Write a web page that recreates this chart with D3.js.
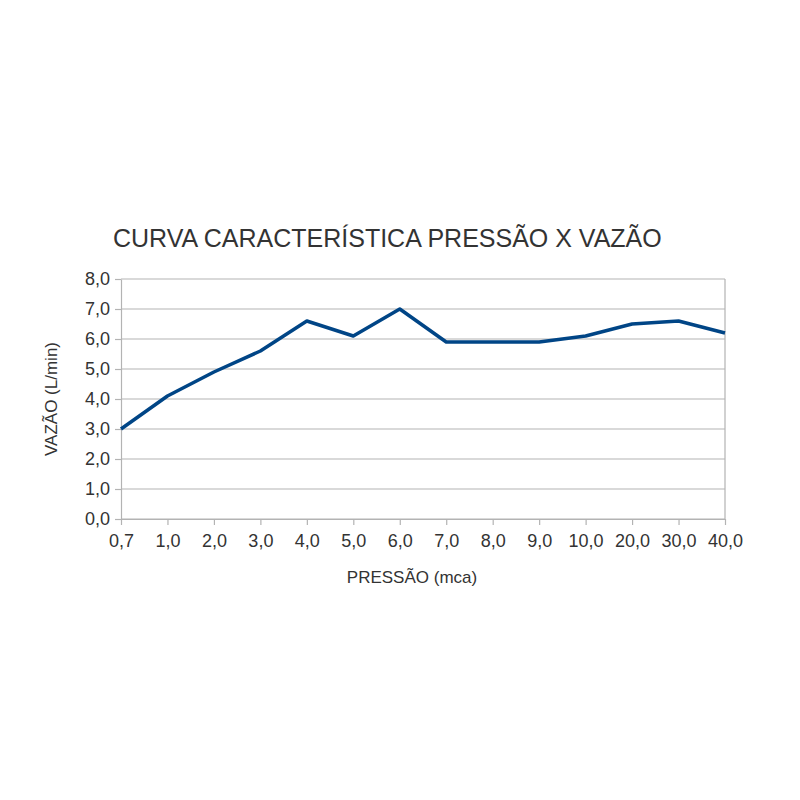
<!DOCTYPE html>
<meta charset="utf-8">
<style>
    body { margin: 0; background: #fff; }
    text { font-family: "Liberation Sans", Arial, sans-serif; fill: #333; }
    .grid line { stroke: #b3b3b3; stroke-width: 1.2; }
    .axis path, .axis line { stroke: #b3b3b3; stroke-width: 1.2; }
</style>
<body>
<script src="https://d3js.org/d3.v7.min.js"></script>
<script>

    // pressure categories (mca) and flow values (L/min)
    var pressures = ["0,7", "1,0", "2,0", "3,0", "4,0", "5,0", "6,0", "7,0", "8,0", "9,0", "10,0", "20,0", "30,0", "40,0"];
    var flows = [3.0, 4.1, 4.9, 5.6, 6.6, 6.1, 7.0, 5.9, 5.9, 5.9, 6.1, 6.5, 6.6, 6.2];
    var yTicks = [0, 1, 2, 3, 4, 5, 6, 7, 8];

    var width = 800,
        height = 800,
        plotLeft = 121, plotRight = 725,
        plotTop = 279, plotBottom = 519;

    var fmt = function(d) { return d3.format(".1f")(d).replace(".", ","); };

    var svg = d3.select("body").append("svg")
        .attr("width", width)
        .attr("height", height);

    var x = d3.scalePoint()
        .domain(pressures)
        .range([plotLeft, plotRight]);

    var y = d3.scaleLinear()
        .domain([0, 8])
        .range([plotBottom, plotTop]);

    // horizontal grid
    svg.append("g")
        .attr("class", "grid")
        .selectAll("line")
        .data(yTicks)
        .enter().append("line")
        .attr("x1", plotLeft)
        .attr("x2", plotRight)
        .attr("y1", function(d) { return y(d); })
        .attr("y2", function(d) { return y(d); });

    // right border
    svg.append("line")
        .attr("x1", plotRight).attr("x2", plotRight)
        .attr("y1", plotTop).attr("y2", plotBottom)
        .style("stroke", "#b3b3b3")
        .style("stroke-width", 1.2);

    var yAxis = svg.append("g")
        .attr("class", "axis")
        .attr("transform", "translate(" + plotLeft + ",0)")
        .call(d3.axisLeft(y).tickValues(yTicks).tickFormat(fmt).tickSizeInner(6).tickSizeOuter(0).tickPadding(5));
    yAxis.selectAll("text").style("font-size", "18px");

    var xAxis = svg.append("g")
        .attr("class", "axis")
        .attr("transform", "translate(0," + plotBottom + ")")
        .call(d3.axisBottom(x).tickSizeInner(6).tickSizeOuter(0).tickPadding(9));
    xAxis.selectAll("text").style("font-size", "18px");

    var line = d3.line()
        .x(function(d, i) { return x(pressures[i]); })
        .y(function(d) { return y(d); });

    svg.append("path")
        .datum(flows)
        .attr("d", line)
        .style("fill", "none")
        .style("stroke", "#004586")
        .style("stroke-width", 3.5)
        .style("stroke-linejoin", "round");

    svg.append("text")
        .attr("x", 113)
        .attr("y", 247)
        .style("font-size", "25px")
        .text("CURVA CARACTERÍSTICA PRESSÃO X VAZÃO");

    svg.append("text")
        .attr("x", 412)
        .attr("y", 583)
        .attr("text-anchor", "middle")
        .style("font-size", "17px")
        .text("PRESSÃO (mca)");

    svg.append("text")
        .attr("transform", "translate(57," + (plotTop + plotBottom) / 2 + ") rotate(-90)")
        .attr("text-anchor", "middle")
        .style("font-size", "17px")
        .text("VAZÃO (L/min)");

</script>
